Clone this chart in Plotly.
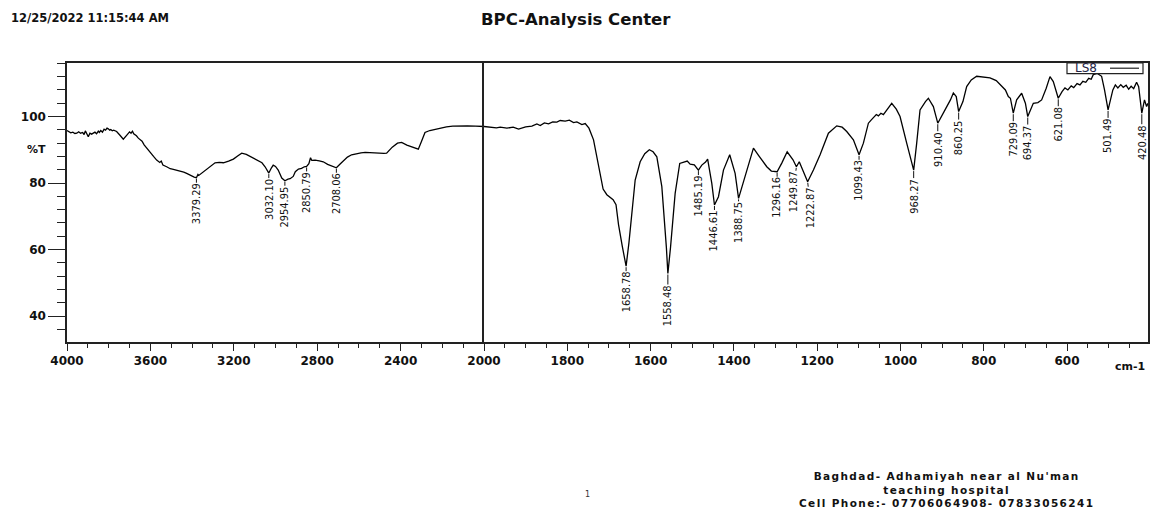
import numpy as np
import plotly.graph_objects as go

# ---------------- data ----------------
wavenumber = [
    4000, 3990, 3982, 3972, 3962, 3953, 3944, 3935, 3925, 3918, 3912, 3905, 3898, 3890, 3882, 3874,
    3866, 3858, 3850, 3845, 3838, 3830, 3822, 3815, 3808, 3802, 3795, 3790, 3783, 3776, 3769, 3762,
    3745, 3730, 3712, 3700, 3693, 3686, 3680, 3675, 3667, 3658, 3650, 3640, 3630, 3618, 3600, 3585,
    3570, 3555, 3548, 3540, 3522, 3505, 3490, 3474, 3455, 3440, 3426, 3405, 3390, 3379.29, 3372, 3368,
    3350, 3330, 3310, 3290, 3270, 3250, 3225, 3202, 3180, 3162, 3140, 3120, 3107, 3085, 3065, 3050,
    3032.10, 3020, 3011, 3000, 2987, 2970, 2954.95, 2940, 2930, 2915, 2905, 2890, 2875, 2862, 2850.79, 2840,
    2832, 2826, 2810, 2790, 2771, 2750, 2730, 2708.06, 2690, 2675, 2655, 2635, 2611, 2590, 2570, 2547,
    2525, 2500, 2480, 2467, 2440, 2415, 2395, 2370, 2340, 2315, 2300, 2283, 2260, 2240, 2211, 2180,
    2150, 2115, 2080, 2040, 2000,
    1985, 1970, 1961, 1945, 1930, 1917, 1900, 1885, 1873, 1865, 1855, 1845, 1835, 1825, 1817, 1805,
    1795, 1785, 1777, 1765, 1757, 1748, 1737, 1725, 1714, 1705, 1690, 1683, 1677, 1668, 1658.78, 1652,
    1645, 1637, 1625, 1614, 1603, 1594, 1585, 1573, 1562, 1558.48, 1552, 1545, 1541, 1530, 1520, 1512,
    1505, 1495, 1485.19, 1477, 1468, 1463, 1453, 1446.61, 1437, 1425, 1410, 1397, 1388.75, 1369, 1353, 1340,
    1333, 1321, 1310, 1296.16, 1285, 1272, 1258, 1249.87, 1243, 1235, 1222.87, 1209, 1193, 1173, 1153, 1140,
    1129, 1113, 1099.43, 1089, 1077, 1070, 1065, 1058, 1053, 1047, 1041, 1030, 1021, 1010, 1001, 985,
    975, 968.27, 961, 953, 940, 933, 921, 910.40, 893, 880, 873, 866, 860.25, 850, 841, 830,
    817, 800, 785, 770, 761, 748, 741, 736, 729.09, 721, 709, 700, 694.37, 681, 670, 661,
    650, 641, 633, 621.08, 612, 605, 598, 590, 584, 576, 569, 562, 555, 548, 542, 537,
    528, 517, 510, 501.49, 490, 484, 478, 471, 465, 458, 452, 446, 440, 433, 428, 423,
    420.48, 414, 409, 405.6,
]
transmittance = [
    95.8, 95.5, 95.1, 95.3, 94.9, 95.0, 95.4, 95.0, 95.2, 94.6, 95.7, 94.8, 93.9, 95.0, 94.7, 95.0,
    95.3, 94.8, 95.6, 95.2, 95.8, 95.3, 96.2, 95.9, 96.5, 96.3, 95.9, 96.1, 95.7, 95.9, 95.6, 95.5,
    94.3, 93.2, 94.5, 95.4, 95.0, 95.6, 94.8, 94.6, 94.2, 93.5, 93.0, 92.6, 91.5, 90.5, 89.0, 88.0,
    86.9, 86.2, 86.6, 85.4, 84.9, 84.3, 84.1, 83.9, 83.5, 83.3, 82.9, 82.2, 81.8, 81.6, 82.6, 82.3,
    83.2, 84.0, 85.2, 86.1, 86.2, 86.1, 86.6, 87.2, 88.2, 89.0, 88.6, 87.9, 87.5, 86.7, 86.1, 84.9,
    83.0, 84.5, 85.4, 85.0, 83.9, 81.5, 80.7, 81.2, 81.3, 82.0, 83.4, 84.2, 84.4, 84.9, 85.0, 85.8,
    87.6, 86.8, 86.9, 86.7, 86.4, 85.6, 85.2, 84.6, 85.7, 86.6, 87.8, 88.5, 88.9, 89.1, 89.2, 89.1,
    89.0, 88.9, 88.9, 89.0, 90.8, 92.0, 92.2, 91.4, 90.7, 90.2, 92.5, 95.2, 95.8, 96.1, 96.5, 96.9,
    97.1, 97.2, 97.2, 97.1, 97.0,
    96.9, 96.6, 96.8, 96.5, 96.8, 96.2, 96.9, 97.1, 97.8, 97.3, 98.1, 97.8, 98.4, 98.3, 98.8, 98.6,
    98.9, 98.2, 98.4, 97.6, 97.9, 96.5, 93.0, 84.9, 78.2, 76.5, 75.0, 73.5, 67.5, 61.0, 55.0, 62.0,
    71.9, 80.9, 86.4, 88.8, 90.0, 89.4, 87.9, 78.9, 60.5, 52.8, 60.8, 72.0, 76.9, 85.9, 86.4, 86.6,
    85.7, 85.5, 83.9, 85.4, 86.3, 87.2, 79.9, 73.4, 75.9, 83.9, 88.5, 82.9, 75.4, 83.9, 90.5, 88.2,
    86.9, 84.9, 83.6, 83.4, 86.0, 89.4, 87.0, 84.9, 86.4, 84.0, 80.4, 83.9, 88.5, 95.0, 97.2, 96.8,
    95.5, 93.0, 88.5, 92.0, 98.0, 99.0, 99.8, 100.6, 100.2, 101.0, 100.6, 102.5, 104.0, 102.2, 100.0, 92.0,
    87.5, 83.9, 92.0, 102.0, 104.5, 105.5, 103.0, 98.0, 102.0, 105.0, 107.1, 106.0, 101.5, 104.5, 109.0, 111.0,
    112.1, 111.8, 111.6, 110.8, 109.6, 108.0, 106.0, 105.5, 101.0, 105.0, 107.0, 104.0, 100.0, 104.0, 104.2, 105.0,
    108.5, 112.0, 110.5, 105.5, 107.5, 108.6, 108.0, 109.2, 108.7, 109.9, 109.5, 110.6, 110.3, 111.5, 111.2, 112.6,
    113.0, 112.1, 108.0, 102.0, 108.0, 109.5, 108.6, 109.6, 108.8, 109.4, 108.2, 109.1, 108.4, 110.3, 109.0, 104.0,
    101.0, 105.0, 103.0, 104.0,
]
peak_labels = [3379.29, 3032.10, 2954.95, 2850.79, 2708.06, 1658.78, 1558.48, 1485.19, 1446.61,
               1388.75, 1296.16, 1249.87, 1222.87, 1099.43, 968.27, 910.40, 860.25, 729.09,
               694.37, 621.08, 501.49, 420.48]
left_ticks = [4000, 3600, 3200, 2800, 2400, 2000]
right_ticks = [1800, 1600, 1400, 1200, 1000, 800, 600]
y_ticks = [40, 60, 80, 100]
sample_name = "LS8"
date_text = "12/25/2022 11:15:44 AM"
title_text = "BPC-Analysis Center"
footer_lines = ["Baghdad- Adhamiyah near al Nu'man", "teaching hospital",
                "Cell Phone:- 07706064908- 07833056241"]

# ---------------- layout geometry ----------------
W, H = 1150, 511
L, R, T, B = 67, 1148, 63.3, 341.7
split = (484 - L) / (R - L)
Y_RANGE = [32.2, 116.1]


def px(xp):
    return (xp - L) / (R - L)


def py(yp):
    return (B - yp) / (B - T)


wn = np.array(wavenumber)
tr = np.array(transmittance)
left = wn >= 2000
right = wn <= 2000

fig = go.Figure()
line_style = dict(color="black", width=1.3)
fig.add_trace(go.Scatter(x=wn[left], y=tr[left], mode="lines", line=line_style,
                         xaxis="x", yaxis="y", showlegend=False, hoverinfo="skip"))
fig.add_trace(go.Scatter(x=wn[right], y=tr[right], mode="lines", line=line_style,
                         xaxis="x2", yaxis="y2", showlegend=False, hoverinfo="skip"))

tickfont = dict(family="DejaVu Sans", size=12, color="#111111", weight="bold")
axcolor = "#222222"

fig.update_layout(
    width=W, height=H,
    margin=dict(l=L, r=W - R, t=T, b=H - B, pad=0, autoexpand=False),
    paper_bgcolor="white", plot_bgcolor="white",
    xaxis=dict(domain=[0, split], range=[4000, 2000], tickvals=left_ticks,
               ticks="outside", ticklen=7, tickwidth=1.3, tickcolor=axcolor,
               minor=dict(dtick=100, tick0=0, ticks="outside", ticklen=4, tickwidth=1.3, tickcolor=axcolor),
               showline=True, linecolor=axcolor, linewidth=1.5, mirror=True, automargin=False,
               showgrid=False, zeroline=False, tickfont=tickfont, anchor="y"),
    xaxis2=dict(domain=[split, 1], range=[2000, 405.6], tickvals=right_ticks,
                ticks="outside", ticklen=7, tickwidth=1.3, tickcolor=axcolor,
                minor=dict(dtick=50, tick0=0, ticks="outside", ticklen=4, tickwidth=1.3, tickcolor=axcolor),
                showline=True, linecolor=axcolor, linewidth=1.5, mirror=True, automargin=False,
                showgrid=False, zeroline=False, tickfont=tickfont, anchor="y2"),
    yaxis=dict(range=Y_RANGE, tickvals=y_ticks, ticks="outside", ticklen=17, tickwidth=1.3,
               tickcolor=axcolor,
               minor=dict(dtick=4, tick0=0, ticks="outside", ticklen=8, tickwidth=1.3, tickcolor=axcolor),
               showline=True, linecolor=axcolor, linewidth=1.5, mirror=False, automargin=False,
               showgrid=False, zeroline=False, tickfont=tickfont, anchor="x"),
    yaxis2=dict(range=Y_RANGE, matches="y", showticklabels=False, ticks="",
                showline=True, linecolor=axcolor, linewidth=1.5, mirror=True, automargin=False,
                showgrid=False, zeroline=False, anchor="x2"),
)

# peak labels
label_font = dict(family="Liberation Sans Narrow, Arial Narrow, DejaVu Sans Condensed", size=11, color="#111111")
offsets = {1558.48: (0, 32), 1388.75: (0, 24), 420.48: (0, 29), 1249.87: (-3, 25), 1222.87: (3, 26)}
for p in peak_labels:
    tval = float(np.interp(p, wn[::-1], tr[::-1]))
    dx, dy = offsets.get(p, (0, 26))
    xr, yr = ("x", "y") if p > 2000 else ("x2", "y2")
    fig.add_annotation(x=p, y=tval, xref=xr, yref=yr, text=f"{p:.2f}", textangle=-90,
                       showarrow=True, arrowhead=0, arrowwidth=1, arrowcolor="#111111",
                       ax=dx, ay=dy, standoff=1, font=label_font, borderpad=0)

# texts around the chart
hdr = dict(family="DejaVu Sans", color="#111111", weight="bold")
fig.add_annotation(x=px(9), y=py(18), xref="paper", yref="paper", text=date_text,
                   showarrow=False, xanchor="left", yanchor="middle", font=dict(size=11.5, **hdr))
fig.add_annotation(x=px(576), y=py(20), xref="paper", yref="paper", text=title_text,
                   showarrow=False, xanchor="center", yanchor="middle", font=dict(size=16.5, **hdr))
fig.add_annotation(x=px(36), y=py(150), xref="paper", yref="paper", text="%T",
                   showarrow=False, xanchor="center", yanchor="middle", font=dict(size=11, **hdr))
fig.add_annotation(x=px(1147), y=py(366), xref="paper", yref="paper", text="cm-1",
                   showarrow=False, xanchor="right", yanchor="middle", font=dict(size=11, **hdr))
footer = "<br>".join(f"<span style='letter-spacing:1.4px'>{ln}</span>" for ln in footer_lines)
fig.add_annotation(x=px(946), y=py(489), xref="paper", yref="paper", text=footer,
                   showarrow=False, xanchor="center", yanchor="middle", align="center",
                   font=dict(size=10.5, **hdr))
fig.add_annotation(x=px(587), y=py(494), xref="paper", yref="paper", text="1",
                   showarrow=False, xanchor="center", yanchor="middle",
                   font=dict(family="DejaVu Sans", size=8, color="#333333"))

# legend box
fig.add_shape(type="rect", xref="paper", yref="paper", x0=px(1067), x1=px(1143), y0=py(74), y1=py(63.3),
              line=dict(color="#222222", width=1.2), fillcolor="white", layer="above")
fig.add_shape(type="line", xref="paper", yref="paper", x0=px(1110), x1=px(1139), y0=py(68.5), y1=py(68.5),
              line=dict(color="#222222", width=1.2), layer="above")
fig.add_annotation(x=px(1073), y=py(68.5), xref="paper", yref="paper", text=sample_name,
                   showarrow=False, xanchor="left", yanchor="middle",
                   font=dict(family="DejaVu Sans", size=12, color="#222244"))

fig.write_html("out.html")
